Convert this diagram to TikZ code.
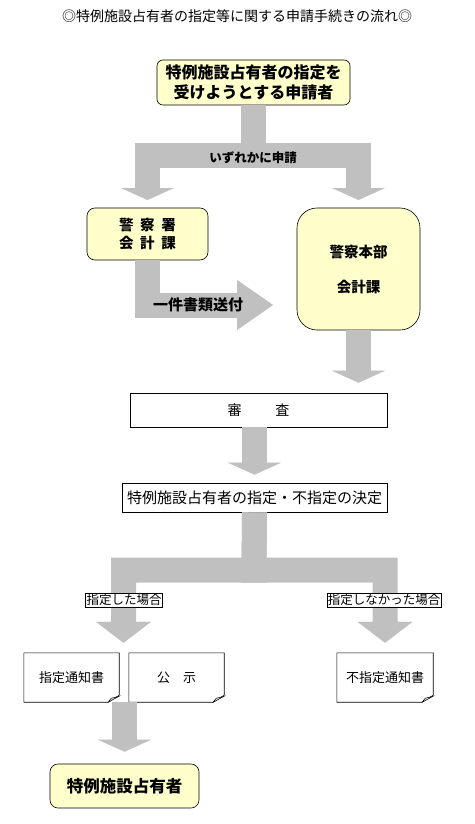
\documentclass[tikz,border=0pt]{standalone}
\usepackage{fontspec}
\usepackage{tikz}
\usetikzlibrary{arrows.meta}
\setmainfont{Noto Sans CJK JP}
\definecolor{boxyellow}{RGB}{255, 255, 204}
\definecolor{arrowgray}{RGB}{192, 192, 192}
\definecolor{foldgray}{RGB}{225, 225, 225}

\begin{document}
\begin{tikzpicture}[x=1pt, y=-1pt,
		yellowbox/.style={draw=black, fill=boxyellow, line width=0.6pt, rounded corners=6pt, align=center, inner sep=0pt, font=\fontsize{16}{20}\selectfont\bfseries},
		plainbox/.style={draw=black, fill=white, line width=0.6pt, inner sep=0pt, font=\fontsize{14}{16}\selectfont},
		casebox/.style={draw=black, fill=white, line width=0.5pt, inner sep=1pt, font=\fontsize{12.5}{14}\selectfont},
		docnode/.style={inner sep=0pt, minimum width=95pt, minimum height=49pt, font=\fontsize{13}{15}\selectfont},
		fatarrow/.style={draw=arrowgray, line width=25pt, line join=miter, -{Triangle[length=12pt, width=53pt, line width=0.1pt]}},
		bigarrow/.style={draw=arrowgray, line width=25pt, line join=miter, -{Triangle[length=21pt, width=55pt, line width=0.1pt]}},
		barlabel/.style={inner sep=0pt, font=\fontsize{12.5}{14}\selectfont\bfseries}]
		
		\useasboundingbox (0,0) rectangle (474,824);
		
		% --- HILFSFUNKTION FÜR DOKUMENTE ---
		\newcommand{\docsheet}[1]{ % #1: Knotenname
			\draw[line width=0.6pt] (#1.north west) -- (#1.north east) -- ([yshift=7pt]#1.south east) -- ([xshift=-11pt]#1.south east) -- (#1.south west) -- cycle;
			\filldraw[fill=foldgray, line width=0.5pt] ([xshift=-11pt]#1.south east) -- ([xshift=-8pt, yshift=4pt]#1.south east) -- ([yshift=6pt]#1.south east) -- cycle;
		}
		
		% --- TITEL ---
		\node[font=\fontsize{14}{16}\selectfont] (title) at (237,16) {◎特例施設占有者の指定等に関する申請手続きの流れ◎};
		
		% --- ANTRAG ---
		\node[yellowbox, minimum width=193pt, minimum height=45pt] (appl) at (253.5,82.5) {特例施設占有者の指定を\\受けようとする申請者};
		\node[yellowbox, rounded corners=8pt, minimum width=121pt, minimum height=52pt, font=\fontsize{14.5}{18}\selectfont\bfseries] (sho) at (147.5,234) {警\hspace{.45em}察\hspace{.45em}署\\会\hspace{.45em}計\hspace{.45em}課};
		\node[yellowbox, rounded corners=20pt, minimum width=123pt, minimum height=122pt, font=\fontsize{14.5}{35}\selectfont\bfseries] (honbu) at (358.5,269) {警察本部\\会計課};
		
		\coordinate (split) at (253.5,155.5);
		\coordinate (tipL) at (147.5,200);
		\coordinate (tipR) at (358.5,200);
		\coordinate (sofu) at (273,305);
		\draw[fatarrow] (appl.south) -- (split) -| (tipL);
		\draw[fatarrow] (appl.south) -- (split) -| (tipR);
		\node[barlabel] (either) at (253,158) {いずれかに申請};
		
		\draw[fatarrow, -{Triangle[length=36pt, width=50pt, line width=0.1pt]}] (sho.south) |- (sofu);
		\node[barlabel, font=\fontsize{15}{17}\selectfont\bfseries] (send) at (198,305) {一件書類送付};
		
		% --- PRÜFUNG UND ENTSCHEIDUNG ---
		\node[plainbox, minimum width=257pt, minimum height=34pt] (shinsa) at (258.5,410) {審\hspace{2.4em}査};
		\node[plainbox, minimum width=265pt, minimum height=29pt, font=\fontsize{15}{17}\selectfont] (kettei) at (254.5,497.5) {特例施設占有者の指定・不指定の決定};
		
		\draw[fatarrow, shorten >=10pt] (honbu.south) -- (honbu.south |- shinsa.north);
		\draw[fatarrow, shorten >=8pt] (shinsa.south -| kettei.north) -- (kettei.north);
		
		% --- ERGEBNIS ---
		\node[docnode] (tsuchi) at (71.5,677.5) {指定通知書};
		\node[docnode] (koji) at (176.5,677.5) {公　示};
		\node[docnode, minimum width=96pt] (futsuchi) at (385,677.5) {不指定通知書};
		\docsheet{tsuchi}
		\docsheet{koji}
		\docsheet{futsuchi}
		
		\coordinate (split2) at (254,570);
		\draw[bigarrow, shorten >=10pt] (kettei.south) -- (split2) -| (tsuchi.north -| 123.5,0);
		\draw[bigarrow, shorten >=10pt] (kettei.south) -- (split2) -| (futsuchi.north);
		\node[casebox] (caseL) at (124,600) {指定した場合};
		\node[casebox] (caseR) at (384,600) {指定しなかった場合};
		
		\node[yellowbox, rounded corners=8pt, minimum width=149pt, minimum height=44pt, font=\fontsize{16.5}{18}\selectfont\bfseries] (final) at (124.5,786) {特例施設占有者};
		\draw[fatarrow, shorten >=12pt] (final.north |- tsuchi.south) -- (final.north);
		
	\end{tikzpicture}
\end{document}
